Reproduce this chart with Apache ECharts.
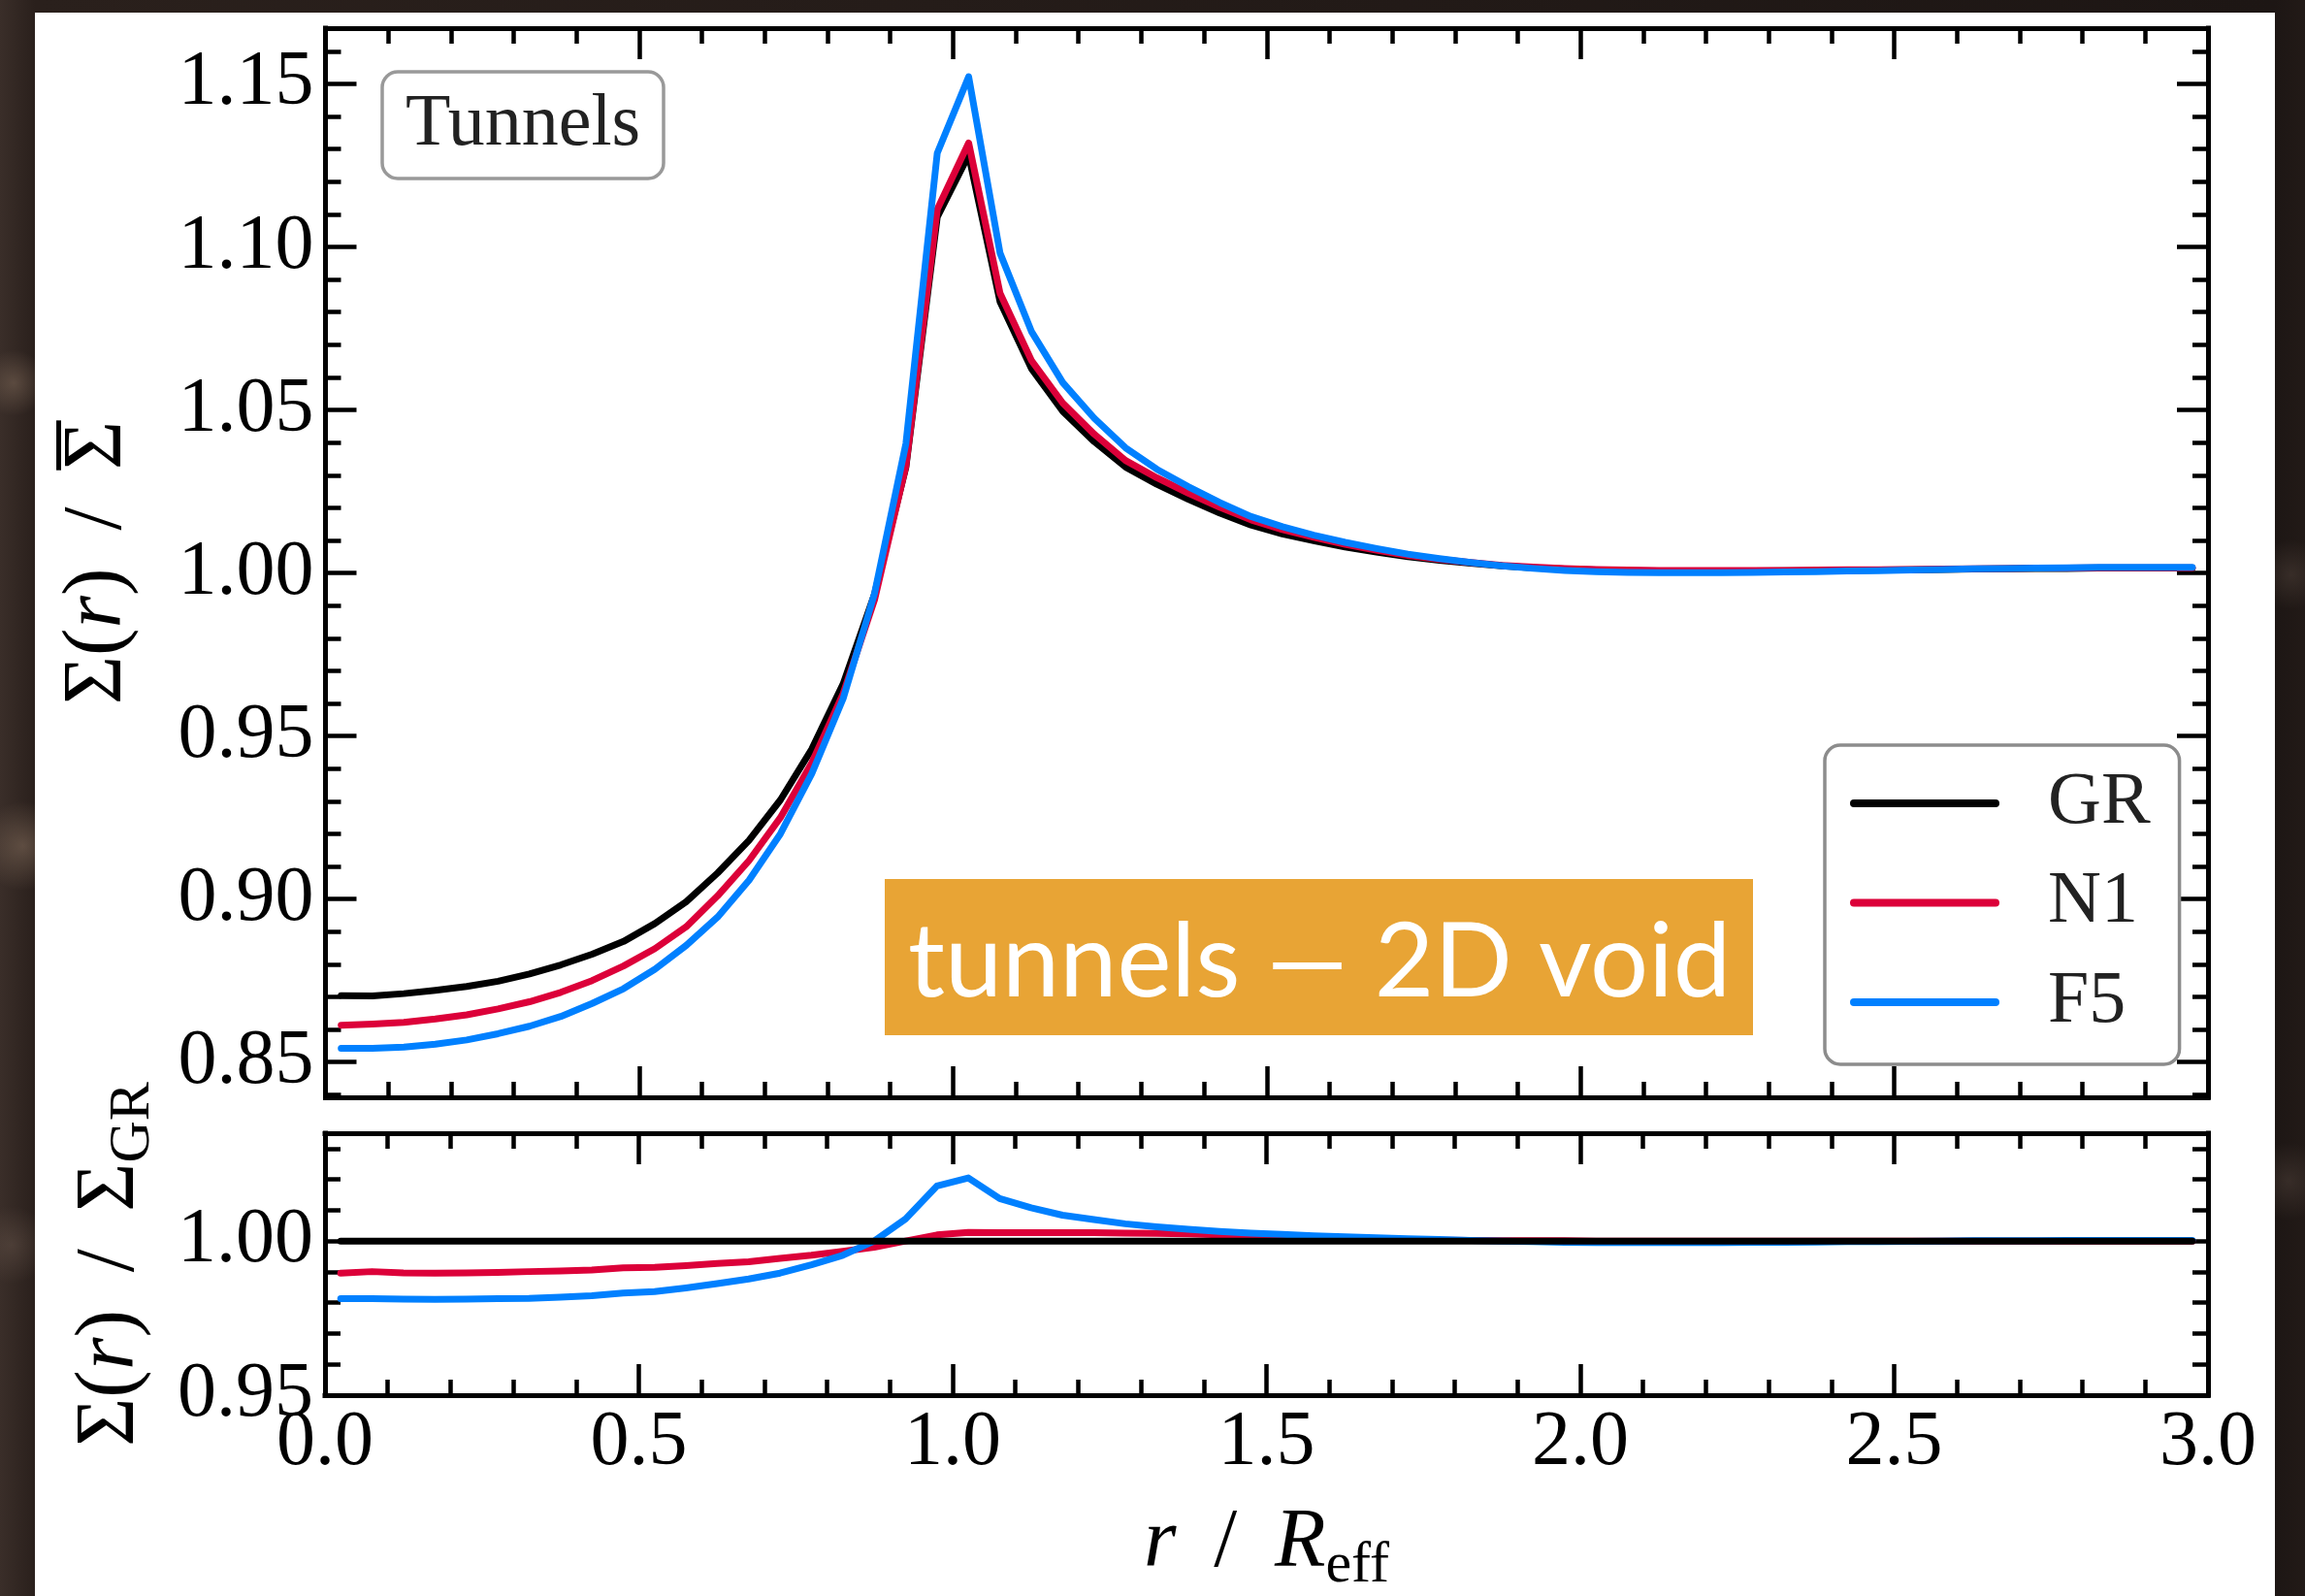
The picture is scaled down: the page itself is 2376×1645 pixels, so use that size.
<!DOCTYPE html>
<html>
<head>
<meta charset="utf-8">
<script src="https://cdn.jsdelivr.net/npm/echarts@6/dist/echarts.min.js"></script>
<style>
  html, body { margin: 0; padding: 0; width: 2376px; height: 1645px; overflow: hidden; }
  body {
    background-color: #231b18;
    background-image:
      radial-gradient(circle at 0.6% 24%, rgba(150,125,105,0.40) 0, rgba(150,125,105,0) 34px),
      radial-gradient(circle at 1.0% 53%, rgba(150,125,105,0.45) 0, rgba(150,125,105,0) 46px),
      radial-gradient(circle at 0.5% 78%, rgba(120,100,88,0.35) 0, rgba(120,100,88,0) 40px),
      radial-gradient(circle at 99.4% 36%, rgba(110,92,82,0.30) 0, rgba(110,92,82,0) 36px),
      radial-gradient(circle at 99.3% 74%, rgba(110,92,82,0.30) 0, rgba(110,92,82,0) 40px),
      linear-gradient(90deg, #3a2e29 0, #2a201c 36px, #1d1614 2345px, #221a17 100%);
  }
  #panel { position: absolute; left: 36px; top: 13px; width: 2309px; height: 1632px; background: #ffffff; }
  #chart { position: absolute; left: 0; top: 0; width: 2376px; height: 1645px; }
</style>
</head>
<body>
<div id="panel"></div>
<div id="chart"></div>
<script>
// Radial bins, r / R_eff
const radius = [
  0.025, 0.075, 0.125, 0.175, 0.225, 0.275, 0.325, 0.375, 0.425, 0.475,
  0.525, 0.575, 0.625, 0.675, 0.725, 0.775, 0.825, 0.875, 0.925, 0.975,
  1.025, 1.075, 1.125, 1.175, 1.225, 1.275, 1.325, 1.375, 1.425, 1.475,
  1.525, 1.575, 1.625, 1.675, 1.725, 1.775, 1.825, 1.875, 1.925, 1.975,
  2.025, 2.075, 2.125, 2.175, 2.225, 2.275, 2.325, 2.375, 2.425, 2.475,
  2.525, 2.575, 2.625, 2.675, 2.725, 2.775, 2.825, 2.875, 2.925, 2.975
];

// Sigma(r) / mean Sigma for each model
const sigmaGR = [
  0.8704, 0.8703, 0.8710, 0.8720, 0.8732, 0.8748, 0.8770, 0.8798, 0.8831, 0.8870,
  0.8925, 0.8992, 0.9080, 0.9180, 0.9304, 0.9460, 0.9660, 0.9935, 1.0325, 1.1092,
  1.1282, 1.0832, 1.0627, 1.0496, 1.0403, 1.0325, 1.0272, 1.0226, 1.0184, 1.0147,
  1.0120, 1.0099, 1.0080, 1.0064, 1.0050, 1.0039, 1.0030, 1.0022, 1.0016, 1.0012,
  1.0009, 1.0007, 1.0006, 1.0006, 1.0006, 1.0006, 1.0007, 1.0007, 1.0008, 1.0009,
  1.0010, 1.0011, 1.0012, 1.0013, 1.0014, 1.0014, 1.0015, 1.0015, 1.0015, 1.0015
];
const sigmaN1 = [
  0.8613, 0.8617, 0.8622, 0.8632, 0.8645, 0.8663, 0.8685, 0.8714, 0.8750, 0.8795,
  0.8848, 0.8915, 0.9010, 0.9118, 0.9250, 0.9418, 0.9630, 0.9918, 1.0328, 1.1115,
  1.1319, 1.0858, 1.0652, 1.0521, 1.0426, 1.0345, 1.0292, 1.0245, 1.0202, 1.0163,
  1.0133, 1.0109, 1.0088, 1.0070, 1.0054, 1.0042, 1.0032, 1.0023, 1.0018, 1.0014,
  1.0011, 1.0009, 1.0008, 1.0008, 1.0008, 1.0008, 1.0008, 1.0009, 1.0010, 1.0010,
  1.0011, 1.0012, 1.0013, 1.0014, 1.0015, 1.0015, 1.0016, 1.0016, 1.0016, 1.0016
];
const sigmaF5 = [
  0.8542, 0.8542, 0.8546, 0.8555, 0.8568, 0.8587, 0.8610, 0.8640, 0.8680, 0.8725,
  0.8785, 0.8858, 0.8945, 0.9058, 0.9200, 0.9385, 0.9615, 0.9937, 1.0397, 1.1288,
  1.1522, 1.0981, 1.0741, 1.0584, 1.0475, 1.0384, 1.0318, 1.0265, 1.0216, 1.0173,
  1.0142, 1.0116, 1.0094, 1.0075, 1.0058, 1.0044, 1.0032, 1.0022, 1.0014, 1.0008,
  1.0004, 1.0002, 1.0001, 1.0001, 1.0001, 1.0002, 1.0003, 1.0004, 1.0006, 1.0007,
  1.0009, 1.0011, 1.0013, 1.0014, 1.0015, 1.0016, 1.0017, 1.0017, 1.0017, 1.0017
];

// Sigma(r) / Sigma_GR
const ratioGR = [
  1.0, 1.0, 1.0, 1.0, 1.0, 1.0, 1.0, 1.0, 1.0, 1.0,
  1.0, 1.0, 1.0, 1.0, 1.0, 1.0, 1.0, 1.0, 1.0, 1.0,
  1.0, 1.0, 1.0, 1.0, 1.0, 1.0, 1.0, 1.0, 1.0, 1.0,
  1.0, 1.0, 1.0, 1.0, 1.0, 1.0, 1.0, 1.0, 1.0, 1.0,
  1.0, 1.0, 1.0, 1.0, 1.0, 1.0, 1.0, 1.0, 1.0, 1.0,
  1.0, 1.0, 1.0, 1.0, 1.0, 1.0, 1.0, 1.0, 1.0, 1.0
];
const ratioN1 = [
  0.9896, 0.9901, 0.9897, 0.9896, 0.9897, 0.9898, 0.9901, 0.9903, 0.9906, 0.9913,
  0.9915, 0.9920, 0.9927, 0.9933, 0.9944, 0.9954, 0.9967, 0.9980, 1.0000, 1.0020,
  1.0028, 1.0027, 1.0027, 1.0027, 1.0027, 1.0026, 1.0025, 1.0023, 1.0020, 1.0016,
  1.0013, 1.0010, 1.0008, 1.0006, 1.0004, 1.0003, 1.0002, 1.0001, 1.0001, 1.0001,
  1.0000, 1.0000, 1.0000, 1.0000, 1.0000, 1.0000, 1.0000, 1.0000, 1.0000, 1.0000,
  1.0000, 1.0000, 1.0000, 1.0000, 1.0000, 1.0000, 1.0000, 1.0000, 1.0000, 1.0000
];
const ratioF5 = [
  0.9813, 0.9813, 0.9812, 0.9811, 0.9812, 0.9813, 0.9814, 0.9818, 0.9823, 0.9831,
  0.9836, 0.9848, 0.9862, 0.9877, 0.9896, 0.9923, 0.9954, 1.0000, 1.0072, 1.0179,
  1.0205, 1.0138, 1.0108, 1.0084, 1.0070, 1.0056, 1.0046, 1.0038, 1.0031, 1.0026,
  1.0022, 1.0017, 1.0014, 1.0011, 1.0008, 1.0005, 1.0002, 1.0000, 0.9998, 0.9996,
  0.9995, 0.9995, 0.9995, 0.9995, 0.9995, 0.9996, 0.9996, 0.9997, 0.9998, 0.9998,
  0.9999, 1.0000, 1.0001, 1.0001, 1.0001, 1.0002, 1.0002, 1.0002, 1.0002, 1.0002
];

const modelNames = ['GR', 'N1', 'F5'];
const modelColors = ['#000000', '#dc0039', '#0080ff'];

// Axis ranges
const X_RANGE = [0, 3];
const X_STEP = 0.5;
const TOP_RANGE = [0.8392, 1.1671];
const TOP_STEP = 0.05;
const BOTTOM_RANGE = [0.95, 1.035];
const BOTTOM_STEP = 0.05;
const MINOR_STEP = 0.01;

const SERIF = "'Liberation Serif', 'DejaVu Serif', serif";

const pairs = (xs, ys) => xs.map((x, i) => [x, ys[i]]);
const onStep = (v, step) => Math.abs(v / step - Math.round(v / step)) < 1e-6;

const spine = { show: true, onZero: false, lineStyle: { color: '#000', width: 5, cap: 'square' } };
const majorTick = { show: true, inside: true, length: 32, lineStyle: { color: '#000', width: 4.5 } };
const minorTickOnly = { show: true, inside: true, length: 16, lineStyle: { color: '#000', width: 4.5 } };
const minorTick = { show: true, splitNumber: 5, length: 16, lineStyle: { color: '#000', width: 4.5 } };
const tickLabel = { fontFamily: SERIF, fontSize: 80, color: '#000' };

function xAxisFor(gridIndex, position, withLabels) {
  return {
    type: 'value', gridIndex, position,
    min: X_RANGE[0], max: X_RANGE[1], interval: X_STEP,
    axisLine: spine, axisTick: majorTick, minorTick,
    splitLine: { show: false },
    axisLabel: withLabels
      ? Object.assign({ show: true, margin: 10, formatter: v => v.toFixed(1) }, tickLabel)
      : { show: false }
  };
}

function yMajor(gridIndex, position, range, extra, withLabels, step) {
  return Object.assign({
    type: 'value', gridIndex, position,
    min: range[0], max: range[1],
    axisLine: spine, axisTick: majorTick,
    splitLine: { show: false },
    axisLabel: withLabels
      ? Object.assign({ show: true, margin: 12, formatter: v => onStep(v, step) ? v.toFixed(2) : '' }, tickLabel)
      : { show: false }
  }, extra);
}

function yMinor(gridIndex, position, range, extra) {
  return Object.assign({
    type: 'value', gridIndex, position,
    min: range[0], max: range[1],
    axisLine: { show: false, onZero: false },
    axisTick: minorTickOnly,
    axisLabel: { show: false },
    splitLine: { show: false }
  }, extra);
}

// Rich styles for the axis titles; the first line of the top title only
// carries the bar over the mean-density symbol (its leading part is invisible
// so the bar lands exactly over the last glyph of the second line).
const NAME_SIZE = 86;
const nameRich = {
  n: { fontFamily: SERIF, fontSize: NAME_SIZE, color: '#000', lineHeight: NAME_SIZE },
  i: { fontFamily: SERIF, fontSize: NAME_SIZE, fontStyle: 'italic', color: '#000', lineHeight: NAME_SIZE },
  sub: { fontFamily: SERIF, fontSize: 60, color: '#000', lineHeight: 60, padding: [46, 0, 0, 0] },
  hn: { fontFamily: SERIF, fontSize: NAME_SIZE, color: 'rgba(0,0,0,0)', lineHeight: 1 },
  hi: { fontFamily: SERIF, fontSize: NAME_SIZE, fontStyle: 'italic', color: 'rgba(0,0,0,0)', lineHeight: 1 },
  bar: { fontFamily: SERIF, fontSize: 100, color: '#000', lineHeight: 1 }
};
const SLASH = ' \u2009/ \u2009';

const topLeft = yMajor(0, 'left', TOP_RANGE, { splitNumber: 6 }, true, TOP_STEP);
topLeft.name = '{hn|Σ(}{hi|r}{hn|)' + SLASH + '}{bar|–}\n{n|Σ(}{i|r}{n|)' + SLASH + 'Σ}';
topLeft.nameLocation = 'middle';
topLeft.nameRotate = 90;
topLeft.nameGap = 191;
topLeft.nameTextStyle = { rich: nameRich, align: 'center' };

const bottomLeft = yMajor(1, 'left', BOTTOM_RANGE, { interval: BOTTOM_STEP }, true, BOTTOM_STEP);
bottomLeft.name = '{n|Σ(}{i|r}{n|)' + SLASH + 'Σ}{sub|GR}';
bottomLeft.nameLocation = 'middle';
bottomLeft.nameRotate = 90;
bottomLeft.nameGap = 178;
bottomLeft.nameTextStyle = { rich: nameRich };

const bottomX = xAxisFor(1, 'bottom', true);
bottomX.name = '{i|r}{n|' + SLASH + '}{i|R}{sub|eff}';
bottomX.nameLocation = 'middle';
bottomX.nameGap = 110;
bottomX.nameTextStyle = { rich: nameRich };

function lineSeries(name, color, xIdx, yIdx, ys, z) {
  return {
    name, type: 'line', xAxisIndex: xIdx, yAxisIndex: yIdx,
    data: pairs(radius, ys),
    symbol: 'none', showSymbol: false, z,
    lineStyle: { color, width: 7, cap: 'round', join: 'round' },
    itemStyle: { color },
    emphasis: { disabled: true },
    animation: false
  };
}

const chart = echarts.init(document.getElementById('chart'), null, { renderer: 'canvas' });

chart.setOption({
  backgroundColor: 'transparent',
  animation: false,
  grid: [
    { left: 335, top: 29, width: 1941, height: 1102 },
    { left: 335, top: 1168, width: 1941, height: 276 }
  ],
  xAxis: [
    xAxisFor(0, 'bottom', false),
    xAxisFor(0, 'top', false),
    bottomX,
    xAxisFor(1, 'top', false)
  ],
  yAxis: [
    topLeft,
    yMajor(0, 'right', TOP_RANGE, { splitNumber: 6 }, false, TOP_STEP),
    yMinor(0, 'left', TOP_RANGE, { splitNumber: 30 }),
    yMinor(0, 'right', TOP_RANGE, { splitNumber: 30 }),
    bottomLeft,
    yMajor(1, 'right', BOTTOM_RANGE, { interval: BOTTOM_STEP }, false, BOTTOM_STEP),
    yMinor(1, 'left', BOTTOM_RANGE, { interval: MINOR_STEP }),
    yMinor(1, 'right', BOTTOM_RANGE, { interval: MINOR_STEP })
  ],
  legend: {
    data: modelNames,
    orient: 'vertical',
    left: 1881, top: 768,
    padding: [22, 30, 26, 26],
    itemWidth: 146, itemHeight: 20, itemGap: 26.5,
    backgroundColor: '#ffffff',
    borderColor: '#8c8c8c', borderWidth: 3.5, borderRadius: 16,
    selectedMode: false,
    itemStyle: { opacity: 0 },
    lineStyle: { width: 8, cap: 'round', opacity: 1 },
    textStyle: { fontFamily: SERIF, fontSize: 76, color: '#222', lineHeight: 76, padding: [0, 0, 0, 49] }
  },
  graphic: [
    {
      type: 'rect', z: 100,
      shape: { x: 394, y: 74, width: 290, height: 110, r: 16 },
      style: { fill: '#ffffff', stroke: '#999999', lineWidth: 3.5 }
    },
    {
      type: 'text', z: 101, x: 539, y: 129,
      style: { text: 'Tunnels', font: "76px 'Liberation Serif', serif", fill: '#222', align: 'center', verticalAlign: 'middle' }
    },
    {
      type: 'rect', z: 100,
      shape: { x: 912, y: 906, width: 895, height: 161 },
      style: { fill: '#e8a435' }
    },
    {
      type: 'text', z: 101, x: 1360, y: 993,
      style: { text: 'tunnels — 2D void', font: "106px Lato, 'Open Sans', sans-serif", fill: '#ffffff', align: 'center', verticalAlign: 'middle' }
    }
  ],
  series: [
    lineSeries(modelNames[0], modelColors[0], 0, 0, sigmaGR, 2),
    lineSeries(modelNames[1], modelColors[1], 0, 0, sigmaN1, 3),
    lineSeries(modelNames[2], modelColors[2], 0, 0, sigmaF5, 4),
    lineSeries(modelNames[1], modelColors[1], 2, 4, ratioN1, 2),
    lineSeries(modelNames[2], modelColors[2], 2, 4, ratioF5, 3),
    lineSeries(modelNames[0], modelColors[0], 2, 4, ratioGR, 4)
  ]
});
</script>
</body>
</html>
